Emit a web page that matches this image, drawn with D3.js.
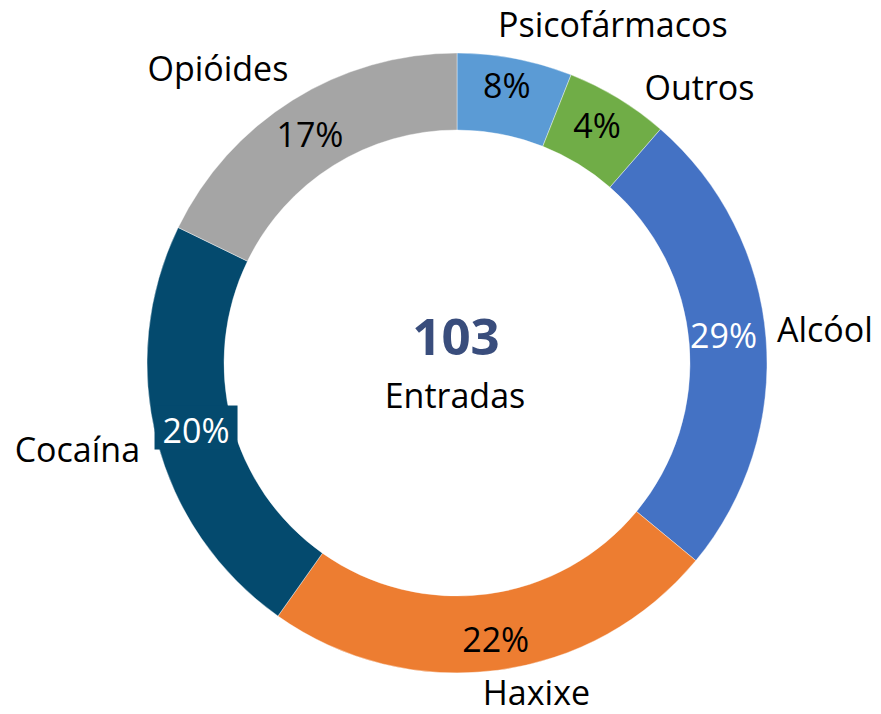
<!DOCTYPE html>
<html>
<head>
<meta charset="utf-8">
<script src="https://cdn.jsdelivr.net/npm/d3@7"></script>
<style>
  html, body { margin: 0; padding: 0; background: #fff; }
  text { font-family: "Open Sans", "Noto Sans", sans-serif; }
</style>
</head>
<body>
<div id="body"></div>
<script>
// categories, clockwise from 12 o'clock
var categories = ["Psicofármacos", "Outros", "Alcóol", "Haxixe", "Cocaína", "Opióides"];
// share of the ring each slice takes
var shares = [6.0, 5.4, 24.6, 23.8, 22.4, 17.8];
// the percentage labels printed on the slices
var pctLabels = ["8%", "4%", "29%", "22%", "20%", "17%"];
var totalValue = "103";
var totalLabel = "Entradas";

var colors = ["#5B9BD5", "#70AD47", "#4472C4", "#ED7D31", "#044A6E", "#A5A5A5"];
var pctColors = ["#000", "#000", "#fff", "#000", "#fff", "#000"];

var width = 881, height = 714;
var cx = 457, cy = 363;
var outerR = 310, innerR = 233;

// small manual offsets for labels (Excel put them by hand)
var pctNudge = [[-1, -10], [-1, -5], [-4, -5], [3, 8], [2, 0], [-3, 2]];
var catNudge = [[94, -2], [71, 19], [39, 6], [36, 15], [-60, 17], [-64, -2]];

var svg = d3.select("#body")
  .append("svg")
  .attr("width", width)
  .attr("height", height);

var chart = svg.append("g")
  .attr("transform", "translate(" + cx + "," + cy + ")");

var pie = d3.pie().sort(null).value(function(d) { return d; });
var arcs = pie(shares);

var arc = d3.arc().innerRadius(innerR).outerRadius(outerR);
var labelArc = d3.arc().innerRadius(330).outerRadius(330);

chart.selectAll("path")
  .data(arcs)
  .enter().append("path")
  .attr("d", arc)
  .attr("fill", function(d, i) { return colors[i]; })
  .attr("stroke", "#fff")
  .attr("stroke-width", 0.4);

// percent labels
var pct = chart.selectAll(".pct")
  .data(arcs)
  .enter().append("g")
  .attr("class", "pct");

pct.append("text")
  .attr("x", function(d, i) { return arc.centroid(d)[0] + pctNudge[i][0]; })
  .attr("y", function(d, i) { return arc.centroid(d)[1] + 12 + pctNudge[i][1]; })
  .attr("text-anchor", "middle")
  .attr("font-size", 34)
  .attr("fill", function(d, i) { return pctColors[i]; })
  .text(function(d, i) { return pctLabels[i]; });

// the Cocaína label sits on a filled box
pct.filter(function(d, i) { return categories[i] == "Cocaína"; })
  .each(function(d, i) {
    var g = d3.select(this);
    var b = g.select("text").node().getBBox();
    g.insert("rect", "text")
      .attr("x", b.x - 8)
      .attr("y", b.y - 1)
      .attr("width", b.width + 16)
      .attr("height", b.height - 2)
      .attr("fill", colors[4]);
  });

// category names outside the ring
chart.selectAll(".cat")
  .data(arcs)
  .enter().append("text")
  .attr("class", "cat")
  .attr("x", function(d, i) { return labelArc.centroid(d)[0] + catNudge[i][0]; })
  .attr("y", function(d, i) { return labelArc.centroid(d)[1] + catNudge[i][1]; })
  .attr("text-anchor", "middle")
  .attr("font-size", 34)
  .attr("fill", "#000")
  .text(function(d, i) { return categories[i]; });

// centre text
chart.append("text")
  .attr("x", -1)
  .attr("y", -8)
  .attr("text-anchor", "middle")
  .attr("font-size", 51)
  .attr("font-weight", "bold")
  .attr("fill", "#394D7C")
  .text(totalValue);

chart.append("text")
  .attr("x", -2)
  .attr("y", 45)
  .attr("text-anchor", "middle")
  .attr("font-size", 34)
  .attr("fill", "#000")
  .text(totalLabel);
</script>
</body>
</html>
